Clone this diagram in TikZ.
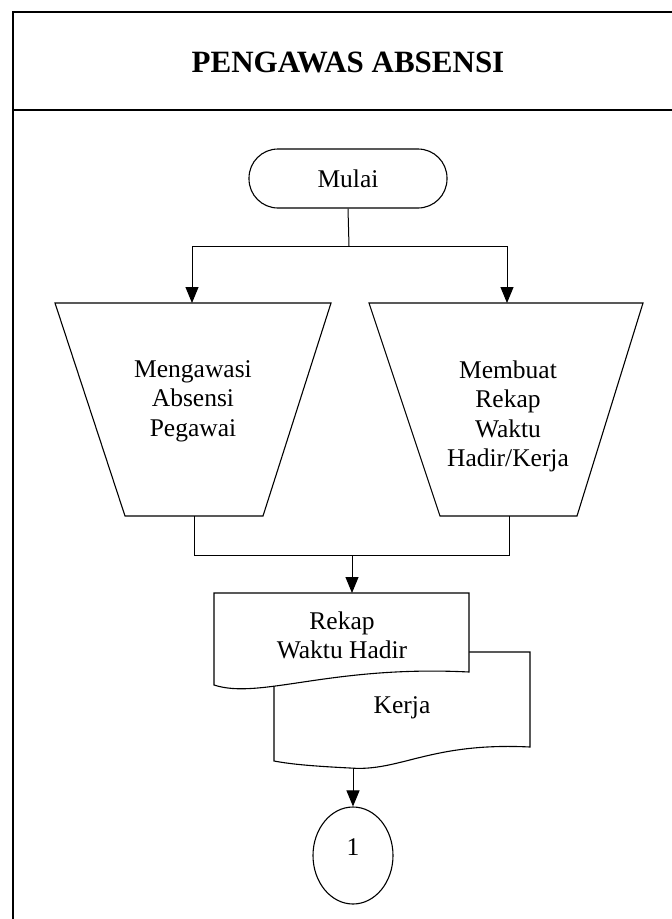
\documentclass[tikz,border=0pt]{standalone}
\usepackage{fontspec}
\setmainfont{Liberation Serif}
\usetikzlibrary{arrows.meta,shapes.geometric}
\begin{document}
\begin{tikzpicture}[x=1pt,y=-1pt, line width=1pt,
  arr/.style={-{Triangle[length=16pt,width=13pt]}},
  txt/.style={font=\fontsize{25.5}{29.5}\selectfont, align=center, inner sep=0pt},
  shp/.style={draw, line width=1.1pt, fill=white}]
\useasboundingbox (0,0) rectangle (672,919);
\fill[white] (0,0) rectangle (672,919);
% frame
\draw[line width=1.3pt] (13,919) -- (13,12) -- (672,12);
\draw[line width=1.1pt] (13,110) -- (672,110);
\node[font=\fontsize{31}{37}\selectfont\bfseries, inner sep=0pt] (title) at (348,62) {PENGAWAS ABSENSI};
% start
\node[shp, rounded corners=29pt, minimum width=198pt, minimum height=59pt, txt] (mulai) at (348,178.5) {Mulai};
\coordinate (split) at (349,246);
\coordinate (sl) at (192,246);
\coordinate (sr) at (507,246);
\draw (mulai.south) -- (split);
\draw (sl) -- (sr);
% trapezoids
\draw[shp] (55,303) -- (331,303) -- (263,516) -- (125,516) -- cycle;
\draw[shp] (369,303) -- (643,303) -- (577,516) -- (440,516) -- cycle;
\coordinate (t1top) at (192,303);
\coordinate (t1bot) at (194,516);
\coordinate (t2top) at (507,303);
\coordinate (t2bot) at (509,516);
\draw[arr] (sl) -- (t1top);
\draw[arr] (sr) -- (t2top);
\node[txt, anchor=north] (t1text) at (193,360) {Mengawasi\\Absensi\\Pegawai};
\node[txt, anchor=north] (t2text) at (508,360) {Membuat\\Rekap\\Waktu\\Hadir/Kerja};
% merge
\coordinate (ml) at (194,555);
\coordinate (mr) at (509,555);
\coordinate (mm) at (352,555);
\coordinate (doctop) at (352,593);
\draw (t1bot) -- (ml) -- (mr) -- (t2bot);
\draw[arr] (mm) -- (doctop);
% documents
\draw[shp] (274,652) -- (530,652) -- (530,747) .. controls (430,742) and (400,772) .. (350,768) .. controls (310,766) and (290,764) .. (274,761) -- cycle;
\draw[shp] (214,593) -- (469,593) -- (469,672) .. controls (330,665) and (260,700) .. (214,685) -- cycle;
\node[txt, anchor=north] (doctext) at (342,611) {Rekap\\Waktu Hadir};
\node[txt, anchor=base] (kerja) at (402,713) {Kerja};
% connector
\coordinate (d2b) at (353,768);
\node[draw, ellipse, line width=1.1pt, minimum width=80pt, minimum height=97pt, inner sep=0pt] (one) at (353,855.5) {};
\node[txt] (onetext) at (353,847) {1};
\draw[arr] (d2b) -- (one.north);
\end{tikzpicture}
\end{document}
